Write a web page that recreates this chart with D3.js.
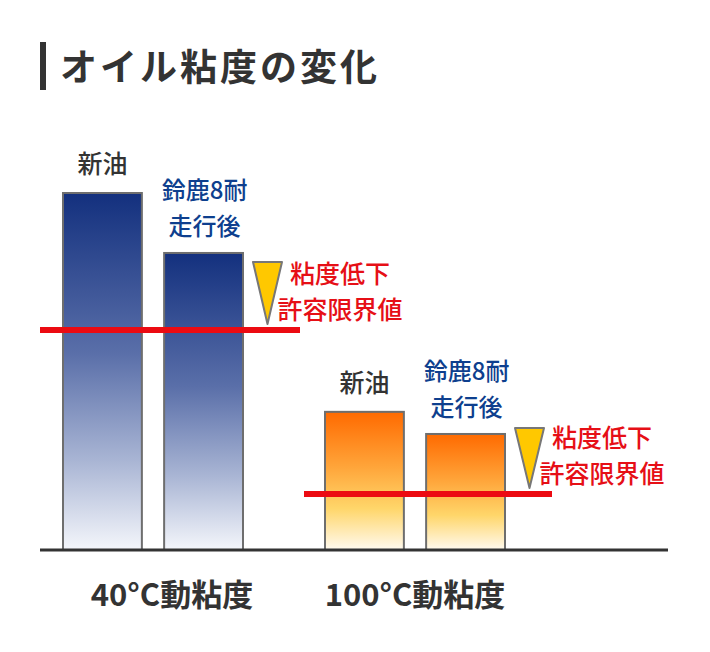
<!DOCTYPE html>
<html>
<head>
<meta charset="utf-8">
<script src="https://cdn.jsdelivr.net/npm/d3@7/dist/d3.min.js"></script>
<style>
  html, body { margin: 0; padding: 0; background: #fff; }
  svg { display: block; font-family: "Noto Sans CJK JP", "Noto Sans", sans-serif; }
</style>
</head>
<body>
<svg id="chart" width="710" height="652"></svg>
<script>
// Relative viscosity (new oil at 40°C = 100)
const groups = ["40°C動粘度", "100°C動粘度"];
const series = ["新油", "鈴鹿8耐走行後"];
const newOil = [100, 38.7];
const afterRace = [83.2, 32.5];
const limitValue = [61.6, 15.7];

const title = "オイル粘度の変化";
const limitLines = ["粘度低下", "許容限界値"];
const afterLines = ["鈴鹿8耐", "走行後"];

const svg = d3.select("#chart");
const defs = svg.append("defs");

// gradients per group, top dark -> bottom light
const gradStops = [
  [[0, "#13307e"], [0.45, "#5a6fa9"], [0.75, "#a9b5d4"], [1, "#f4f6fb"]],
  [[0, "#ff6a00"], [0.4, "#ffa53a"], [0.7, "#ffd66a"], [1, "#fffaf0"]]
];
gradStops.forEach((stops, i) => {
  const g = defs.append("linearGradient")
    .attr("id", "grad" + i)
    .attr("x1", 0).attr("y1", 0).attr("x2", 0).attr("y2", 1);
  for (const [o, c] of stops) {
    g.append("stop").attr("offset", o).attr("stop-color", c);
  }
});

const baseY = 550;
const y = d3.scaleLinear().domain([0, 100]).range([baseY, 193]);
const x0 = d3.scaleBand().domain(groups).range([63, 505]).paddingInner(82 / 262);
const x1 = d3.scaleBand().domain(series).range([0, x0.bandwidth()]).paddingInner(22 / 100);

// title
svg.append("rect").attr("x", 40).attr("y", 42).attr("width", 6).attr("height", 48).attr("fill", "#333");
svg.append("text").attr("x", 60).attr("y", 81)
  .attr("font-size", 37).attr("font-weight", 700).attr("fill", "#333")
  .attr("letter-spacing", 3)
  .text(title);

// bars
const rows = [];
groups.forEach((g, i) => {
  rows.push({ g, i, s: series[0], v: newOil[i] });
  rows.push({ g, i, s: series[1], v: afterRace[i] });
});

svg.append("g").selectAll("rect").data(rows).join("rect")
  .attr("x", d => x0(d.g) + x1(d.s))
  .attr("y", d => y(d.v))
  .attr("width", x1.bandwidth())
  .attr("height", d => baseY - y(d.v))
  .attr("fill", d => `url(#grad${d.i})`)
  .attr("stroke", "#6e6e6e")
  .attr("stroke-width", 2);

// axis baseline
svg.append("line").attr("x1", 40).attr("x2", 668).attr("y1", baseY).attr("y2", baseY)
  .attr("stroke", "#333").attr("stroke-width", 3);

// bar labels
groups.forEach((g, i) => {
  const cx0 = x0(g) + x1(series[0]) + x1.bandwidth() / 2;
  const cx1 = x0(g) + x1(series[1]) + x1.bandwidth() / 2;
  svg.append("text").attr("x", cx0).attr("y", y(newOil[i]) - 31)
    .attr("text-anchor", "middle").attr("dominant-baseline", "central")
    .attr("font-size", 25).attr("font-weight", 500).attr("fill", "#333")
    .text(series[0]);
  afterLines.forEach((t, k) => {
    svg.append("text").attr("x", cx1 + 1).attr("y", y(afterRace[i]) - 64 + k * 36)
      .attr("text-anchor", "middle").attr("dominant-baseline", "central")
      .attr("font-size", 24).attr("font-weight", 500).attr("fill", "#0e3f8e")
      .text(t);
  });

  // limit line
  const ly = y(limitValue[i]);
  const lx1 = i === 0 ? 40 : 304;
  const lx2 = i === 0 ? 300 : 552;
  svg.append("line").attr("x1", lx1).attr("x2", lx2).attr("y1", ly).attr("y2", ly)
    .attr("stroke", "#ec0b12").attr("stroke-width", 6);

  // drop marker triangle
  const tx = x0(g) + x0.bandwidth() + 10;
  const tTop = i === 0 ? y(afterRace[i]) + 9 : y(afterRace[i]) - 6;
  const tBot = ly - 6;
  svg.append("path")
    .attr("d", `M${tx},${tTop}L${tx + 29},${tTop}L${tx + 14.5},${tBot}Z`)
    .attr("fill", "#ffc800").attr("stroke", "#777").attr("stroke-width", 2)
    .attr("stroke-linejoin", "round");

  limitLines.forEach((t, k) => {
    svg.append("text").attr("x", tx + 29 + 58).attr("y", ly - 58 + k * 36)
      .attr("text-anchor", "middle").attr("dominant-baseline", "central")
      .attr("font-size", 25).attr("font-weight", 500).attr("fill", "#e60f16")
      .text(t);
  });

  // group label
  svg.append("text")
    .attr("x", x0(g) + x0.bandwidth() / 2 + (i === 0 ? 19 : 0))
    .attr("y", 592)
    .attr("text-anchor", "middle").attr("dominant-baseline", "central")
    .attr("font-size", 31).attr("font-weight", 700).attr("fill", "#333")
    .text(g);
});
</script>
</body>
</html>
